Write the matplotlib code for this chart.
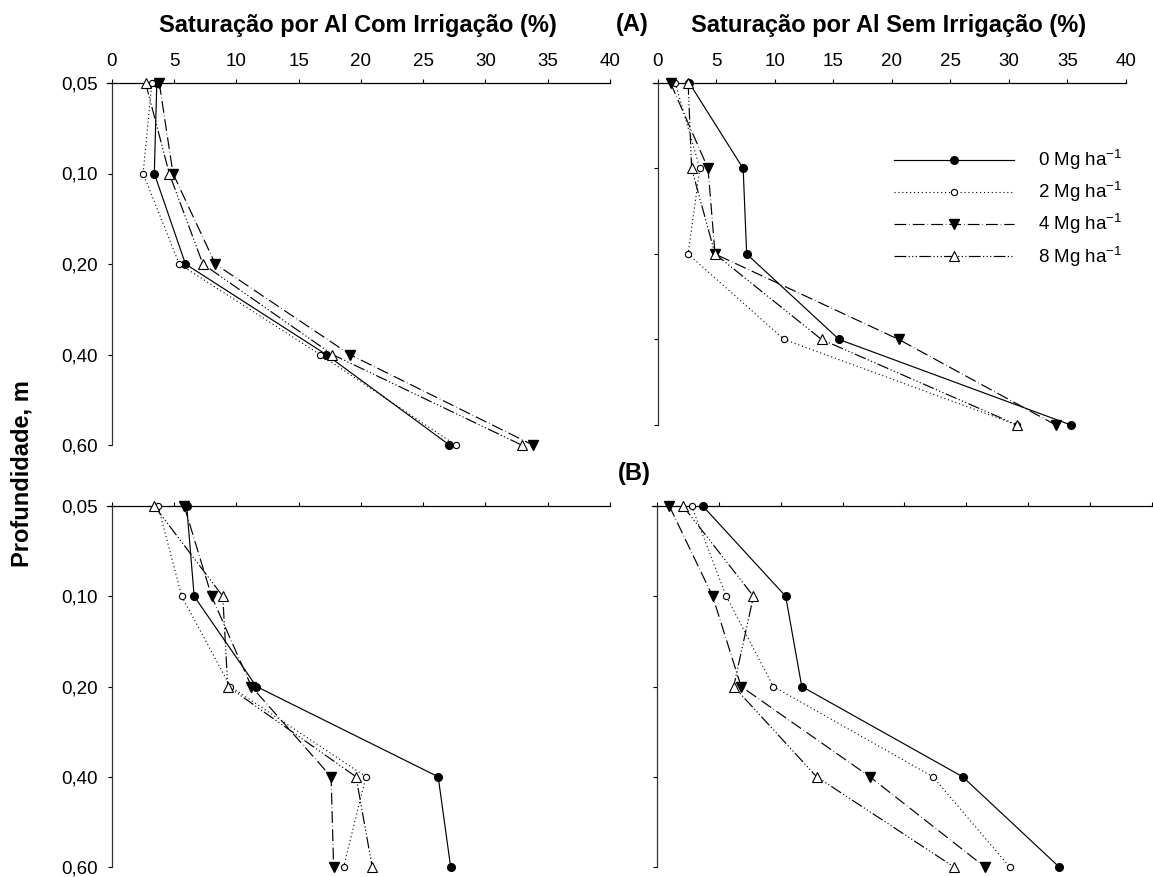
import matplotlib
matplotlib.use('Agg')
import matplotlib.pyplot as plt

plt.rcParams['font.family'] = ['Liberation Sans', 'DejaVu Sans']
plt.rcParams['mathtext.fontset'] = 'custom'
plt.rcParams['mathtext.rm'] = 'Liberation Sans'
plt.rcParams['mathtext.it'] = 'Liberation Sans:italic'
plt.rcParams['mathtext.bf'] = 'Liberation Sans:bold'

depths = ['0,05', '0,10', '0,20', '0,40', '0,60']
doses = ['0', '2', '4', '8']
xticks = [0, 5, 10, 15, 20, 25, 30, 35, 40]

# Saturação por Al (%) - (A) com irrigação
a_com_0 = [3.6, 3.4, 5.9, 17.2, 27.1]
a_com_2 = [3.2, 2.5, 5.4, 16.7, 27.6]
a_com_4 = [3.8, 4.9, 8.3, 19.1, 33.8]
a_com_8 = [2.7, 4.6, 7.3, 17.7, 32.9]
# (A) sem irrigação
a_sem_0 = [2.7, 7.3, 7.6, 15.5, 35.3]
a_sem_2 = [1.5, 3.6, 2.6, 10.8, 30.7]
a_sem_4 = [1.1, 4.3, 4.9, 20.6, 34.0]
a_sem_8 = [2.6, 2.9, 4.9, 14.0, 30.7]
# (B) com irrigação
b_com_0 = [6.0, 6.6, 11.6, 26.2, 27.2]
b_com_2 = [3.7, 5.6, 9.5, 20.4, 18.6]
b_com_4 = [5.8, 8.0, 11.2, 17.6, 17.8]
b_com_8 = [3.4, 8.9, 9.3, 19.6, 20.9]
# (B) sem irrigação
b_sem_0 = [3.7, 10.4, 11.7, 24.7, 32.5]
b_sem_2 = [2.8, 5.6, 9.4, 22.3, 28.5]
b_sem_4 = [1.0, 4.5, 6.8, 17.2, 26.5]
b_sem_8 = [2.1, 7.8, 6.2, 12.9, 24.0]

styles = [
    dict(ls='-', lw=0.85, marker='o', mfc='black', mec='black', ms=5.5),
    dict(ls=(0, (1, 2.5)), lw=0.8, marker='o', mfc='white', mec='black', ms=4.5, mew=0.8),
    dict(ls=(0, (10, 2.5, 0.5, 2.5)), lw=0.85, marker='v', mfc='black', mec='black', ms=7.5),
    dict(ls=(0, (10, 2, 1, 2, 1, 2, 1, 2)), lw=0.85, marker='^', mfc='white', mec='black', ms=7, mew=0.8),
]

W, H = 1153, 877
fig = plt.figure(figsize=(W / 100, H / 100), dpi=100)


def px_axes(x0, x1, y0, y1):
    return fig.add_axes([x0 / W, 1 - y1 / H, (x1 - x0) / W, (y1 - y0) / H])


def draw(ax, series, xlabels, ylabels):
    handles = []
    for vals, st in zip(series, styles):
        h, = ax.plot(vals, depths, color='black', clip_on=False, zorder=3, **st)
        handles.append(h)
    ax.set_xlim(-0.4, 40)
    ax.set_ylim(4, 0)
    for s in ['right', 'bottom']:
        ax.spines[s].set_visible(False)
    ax.spines['left'].set_position(('data', 0))
    ax.spines['left'].set_linewidth(0.9)
    ax.spines['left'].set_color('#333333')
    ax.spines['top'].set_linewidth(0.9)
    ax.xaxis.set_ticks_position('top')
    ax.set_xticks(xticks)
    ax.tick_params(axis='x', direction='out', length=3, width=0.8, pad=6,
                   labeltop=xlabels, labelbottom=False, labelsize=13.5)
    ax.tick_params(axis='y', direction='out', length=3, width=0.8, pad=7,
                   labelleft=ylabels, labelsize=13.5)
    return handles


ax_a1 = px_axes(107, 610, 83, 445)
ax_a2 = px_axes(653, 1126, 83, 425)
ax_b1 = px_axes(107, 610, 506, 867)
ax_b2 = px_axes(652, 1152, 506, 867)

draw(ax_a1, [a_com_0, a_com_2, a_com_4, a_com_8], True, True)
hs = draw(ax_a2, [a_sem_0, a_sem_2, a_sem_4, a_sem_8], True, False)
draw(ax_b1, [b_com_0, b_com_2, b_com_4, b_com_8], False, True)
draw(ax_b2, [b_sem_0, b_sem_2, b_sem_4, b_sem_8], False, False)

ax_a2.legend(hs, [d + r' Mg ha$^{-1}$' for d in doses], loc='upper left',
             bbox_to_anchor=(894 / W, 1 - 148 / H), bbox_transform=fig.transFigure,
             frameon=False, handlelength=6.4, handletextpad=1.3, labelspacing=0.43,
             borderpad=0, borderaxespad=0, fontsize=13.5, numpoints=1)

fig.text(358 / W, 1 - 32 / H, 'Saturação por Al Com Irrigação (%)', ha='center', va='baseline',
         fontsize=17, fontweight='bold')
fig.text(889 / W, 1 - 32 / H, 'Saturação por Al Sem Irrigação (%)', ha='center', va='baseline',
         fontsize=17, fontweight='bold')
fig.text(632 / W, 1 - 31 / H, '(A)', ha='center', va='baseline', fontsize=17, fontweight='bold')
fig.text(634 / W, 1 - 480 / H, '(B)', ha='center', va='baseline', fontsize=17, fontweight='bold')
fig.text(22 / W, 1 - 474 / H, 'Profundidade, m', ha='center', va='center', rotation=90,
         fontsize=17, fontweight='bold')

fig.savefig('out.png', dpi=100, facecolor='white')
